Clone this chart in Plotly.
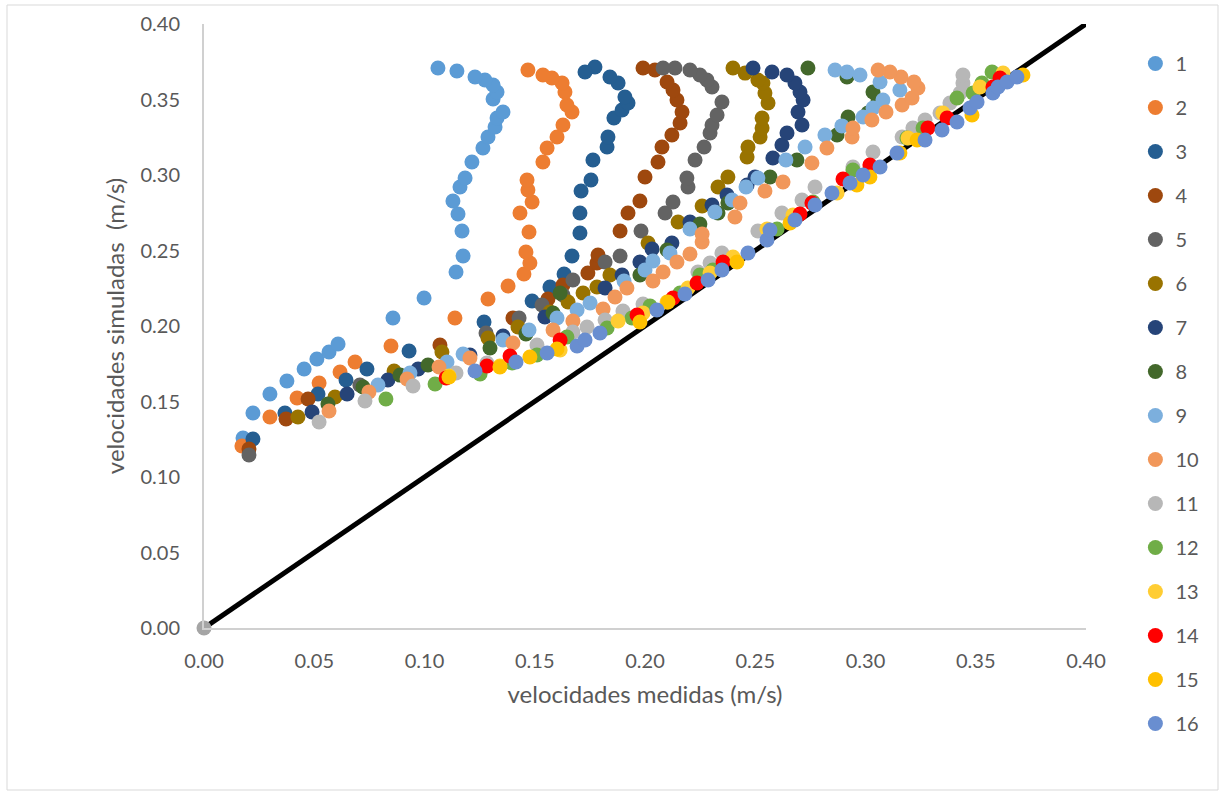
import plotly.graph_objects as go

# ---------------- data (measured x, simulated y) ----------------
meas_1 = [0.0177,0.0222,0.0299,0.0376,0.0454,0.0512,0.0567,0.0608,0.0857,0.0998,0.1143,0.1175,0.1170,0.1152,0.1129,0.1161,0.1184,0.1215,0.1265,0.1288,0.1320,0.1329,0.1356,0.1311,0.1329,0.1311,0.1274,0.1229,0.1147,0.1061]
sim_1 = [0.1258,0.1424,0.1550,0.1636,0.1715,0.1781,0.1828,0.1881,0.2053,0.2185,0.2358,0.2464,0.2629,0.2742,0.2828,0.2921,0.2980,0.3086,0.3179,0.3252,0.3318,0.3377,0.3417,0.3503,0.3550,0.3596,0.3629,0.3649,0.3689,0.3709]

meas_2 = [0.0172,0.0299,0.0422,0.0522,0.0617,0.0685,0.0848,0.1138,0.1288,0.1379,0.1451,0.1478,0.1460,0.1474,0.1433,0.1488,0.1469,0.1465,0.1537,0.1556,0.1601,0.1628,0.1669,0.1646,0.1637,0.1624,0.1578,0.1537,0.1469]
sim_2 = [0.1205,0.1397,0.1523,0.1623,0.1695,0.1762,0.1868,0.2053,0.2179,0.2265,0.2344,0.2417,0.2490,0.2623,0.2748,0.2821,0.2901,0.2967,0.3086,0.3179,0.3252,0.3331,0.3417,0.3464,0.3550,0.3609,0.3642,0.3662,0.3695]

meas_3 = [0.0222,0.0367,0.0517,0.0644,0.0739,0.0930,0.1270,0.1488,0.1569,0.1633,0.1669,0.1705,0.1705,0.1710,0.1755,0.1764,0.1828,0.1832,0.1859,0.1896,0.1923,0.1909,0.1878,0.1841,0.1773,0.1728]
sim_3 = [0.1252,0.1424,0.1550,0.1642,0.1715,0.1834,0.2026,0.2166,0.2258,0.2344,0.2464,0.2616,0.2748,0.2894,0.2967,0.3099,0.3185,0.3252,0.3377,0.3430,0.3477,0.3517,0.3609,0.3649,0.3715,0.3682]

meas_4 = [0.0204,0.0372,0.0472,0.1070,0.1401,0.1560,0.1628,0.1741,0.1782,0.1787,0.1887,0.1923,0.1977,0.2000,0.2059,0.2077,0.2122,0.2159,0.2168,0.2145,0.2127,0.2100,0.2045,0.1991]
sim_4 = [0.1185,0.1384,0.1517,0.1874,0.2053,0.2179,0.2272,0.2351,0.2417,0.2470,0.2629,0.2748,0.2828,0.2987,0.3086,0.3185,0.3265,0.3344,0.3417,0.3497,0.3563,0.3616,0.3695,0.3709]

meas_5 = [0.0204,0.0707,0.1279,0.1429,0.1533,0.1628,0.1673,0.1819,0.1887,0.1982,0.2091,0.2127,0.2195,0.2190,0.2227,0.2268,0.2295,0.2304,0.2327,0.2349,0.2304,0.2281,0.2249,0.2204,0.2136,0.2082]
sim_5 = [0.1146,0.1609,0.1954,0.2053,0.2139,0.2205,0.2305,0.2424,0.2464,0.2629,0.2748,0.2821,0.2921,0.2980,0.3099,0.3185,0.3278,0.3331,0.3397,0.3483,0.3583,0.3629,0.3662,0.3695,0.3709,0.3709]

meas_6 = [0.0426,0.0594,0.0862,0.1079,0.1288,0.1424,0.1569,0.1651,0.1719,0.1782,0.1841,0.2014,0.2150,0.2259,0.2331,0.2376,0.2463,0.2467,0.2522,0.2531,0.2531,0.2558,0.2544,0.2535,0.2512,0.2454,0.2399]
sim_6 = [0.1397,0.1530,0.1702,0.1828,0.1921,0.1993,0.2093,0.2159,0.2219,0.2258,0.2338,0.2550,0.2689,0.2795,0.2921,0.2987,0.3119,0.3185,0.3252,0.3311,0.3377,0.3477,0.3543,0.3609,0.3629,0.3675,0.3709]

meas_7 = [0.0490,0.0649,0.0834,0.0971,0.1206,0.1356,0.1546,0.1819,0.1896,0.1977,0.2032,0.2122,0.2204,0.2304,0.2372,0.2463,0.2499,0.2580,0.2621,0.2644,0.2712,0.2694,0.2717,0.2703,0.2680,0.2644,0.2576,0.2490]
sim_7 = [0.1430,0.1550,0.1642,0.1715,0.1808,0.1934,0.2060,0.2252,0.2338,0.2424,0.2510,0.2550,0.2689,0.2801,0.2868,0.2934,0.2987,0.3113,0.3199,0.3278,0.3331,0.3417,0.3497,0.3550,0.3609,0.3662,0.3682,0.3709]

meas_8 = [0.0562,0.0721,0.0889,0.1016,0.1297,0.1460,0.1583,0.1615,0.1977,0.2100,0.2249,0.2331,0.2376,0.2567,0.2689,0.2871,0.2921,0.3011,0.3057,0.3034,0.2916,0.2739]
sim_8 = [0.1483,0.1596,0.1675,0.1742,0.1854,0.1947,0.2086,0.2219,0.2338,0.2503,0.2675,0.2748,0.2815,0.2987,0.3099,0.3265,0.3384,0.3411,0.3497,0.3550,0.3649,0.3709]

meas_9 = [0.0789,0.0934,0.1102,0.1175,0.1356,0.1474,0.1601,0.1692,0.1751,0.1905,0.2000,0.2036,0.2113,0.2204,0.2317,0.2395,0.2458,0.2512,0.2639,0.2726,0.2816,0.2893,0.2989,0.3034,0.3079,0.3156,0.3066,0.2975,0.2916,0.2862]
sim_9 = [0.1609,0.1689,0.1762,0.1815,0.1907,0.1974,0.2053,0.2106,0.2152,0.2298,0.2371,0.2430,0.2483,0.2642,0.2755,0.2834,0.2921,0.2980,0.3099,0.3185,0.3265,0.3325,0.3384,0.3444,0.3497,0.3563,0.3616,0.3662,0.3682,0.3695]

meas_10 = [0.0567,0.0748,0.0921,0.1066,0.1206,0.1401,0.1583,0.1673,0.1810,0.1864,0.1918,0.2036,0.2082,0.2145,0.2204,0.2259,0.2259,0.2408,0.2431,0.2544,0.2626,0.2757,0.2825,0.2939,0.2943,0.3029,0.3093,0.3166,0.3211,0.3238,0.3220,0.3161,0.3111,0.3057]
sim_10 = [0.1437,0.1563,0.1649,0.1728,0.1788,0.1887,0.1974,0.2033,0.2113,0.2192,0.2252,0.2298,0.2358,0.2424,0.2477,0.2556,0.2609,0.2722,0.2815,0.2894,0.2954,0.3079,0.3179,0.3252,0.3311,0.3364,0.3417,0.3464,0.3510,0.3576,0.3616,0.3649,0.3682,0.3695]

meas_11 = [0.0522,0.0730,0.0948,0.1143,0.1283,0.1510,0.1673,0.1737,0.1819,0.1900,0.1991,0.2240,0.2295,0.2349,0.2512,0.2621,0.2712,0.2771,0.2943,0.3034,0.3166,0.3215,0.3270,0.3338,0.3383,0.3429,0.3442,0.3442]
sim_11 = [0.1364,0.1503,0.1603,0.1689,0.1755,0.1874,0.1960,0.1993,0.2040,0.2099,0.2146,0.2358,0.2417,0.2483,0.2629,0.2748,0.2834,0.2921,0.3053,0.3152,0.3252,0.3311,0.3364,0.3411,0.3477,0.3543,0.3609,0.3662]

meas_12 = [0.0825,0.1048,0.1252,0.1397,0.1510,0.1646,0.1828,0.1941,0.2023,0.2159,0.2249,0.2308,0.2599,0.2762,0.2943,0.3188,0.3261,0.3415,0.3488,0.3528,0.3574]
sim_12 = [0.1517,0.1616,0.1682,0.1755,0.1808,0.1927,0.1987,0.2053,0.2132,0.2219,0.2338,0.2371,0.2642,0.2821,0.3033,0.3245,0.3311,0.3510,0.3543,0.3609,0.3682]

meas_13 = [0.1111,0.1342,0.1615,0.1878,0.1991,0.2100,0.2195,0.2295,0.2399,0.2553,0.2671,0.2871,0.3020,0.3193,0.3351,0.3519,0.3624]
sim_13 = [0.1669,0.1735,0.1841,0.2033,0.2086,0.2159,0.2252,0.2351,0.2457,0.2642,0.2735,0.2881,0.3046,0.3245,0.3411,0.3583,0.3675]

meas_14 = [0.1098,0.1283,0.1388,0.1615,0.1964,0.2127,0.2236,0.2354,0.2703,0.2757,0.2898,0.3020,0.3283,0.3370,0.3578,0.3610]
sim_14 = [0.1656,0.1735,0.1801,0.1907,0.2073,0.2185,0.2285,0.2424,0.2742,0.2815,0.2974,0.3066,0.3311,0.3377,0.3583,0.3642]

meas_15 = [0.1111,0.1342,0.1478,0.1601,0.1977,0.2104,0.2417,0.2658,0.2961,0.3020,0.3156,0.3234,0.3483,0.3714]
sim_15 = [0.1662,0.1728,0.1795,0.1848,0.2026,0.2159,0.2424,0.2682,0.2934,0.2987,0.3146,0.3232,0.3397,0.3662]

meas_16 = [0.1229,0.1415,0.1556,0.1692,0.1728,0.1796,0.2054,0.2181,0.2286,0.2349,0.2467,0.2553,0.2567,0.2680,0.2771,0.2848,0.2930,0.2989,0.3066,0.3143,0.3270,0.3347,0.3415,0.3474,0.3506,0.3578,0.3601,0.3642,0.3687]
sim_16 = [0.1702,0.1762,0.1821,0.1868,0.1907,0.1954,0.2106,0.2212,0.2305,0.2371,0.2483,0.2570,0.2636,0.2702,0.2801,0.2881,0.2947,0.3000,0.3053,0.3146,0.3232,0.3298,0.3351,0.3444,0.3483,0.3543,0.3583,0.3616,0.3649]

line_x = [0.0, 0.4]
line_y = [0.0, 0.4]

series_names = [str(i) for i in range(1, 17)]
series_colors = ["#5B9BD5", "#ED7D31", "#255E91", "#9E480E", "#636363", "#997300",
                 "#264478", "#43682B", "#7CAFDD", "#F1975A", "#B7B7B7", "#70AD47",
                 "#FFCD33", "#FF0000", "#FFC000", "#698ED0"]
meas_all = [meas_1, meas_2, meas_3, meas_4, meas_5, meas_6, meas_7, meas_8,
            meas_9, meas_10, meas_11, meas_12, meas_13, meas_14, meas_15, meas_16]
sim_all = [sim_1, sim_2, sim_3, sim_4, sim_5, sim_6, sim_7, sim_8,
           sim_9, sim_10, sim_11, sim_12, sim_13, sim_14, sim_15, sim_16]

x_ticks = [0.0, 0.05, 0.10, 0.15, 0.20, 0.25, 0.30, 0.35, 0.40]
y_ticks = [0.0, 0.05, 0.10, 0.15, 0.20, 0.25, 0.30, 0.35, 0.40]

FONT = "Lato"
TXT = "#595959"

fig = go.Figure()

# 1:1 line
fig.add_trace(go.Scatter(x=line_x, y=line_y, mode="lines",
                         line=dict(color="black", width=5),
                         showlegend=False, hoverinfo="skip"))
fig.add_trace(go.Scatter(x=line_x[:1], y=line_y[:1], mode="markers",
                         marker=dict(color="#A5A5A5", size=15),
                         showlegend=False, cliponaxis=False, hoverinfo="skip"))

for name, col, xs, ys in zip(series_names, series_colors, meas_all, sim_all):
    fig.add_trace(go.Scatter(x=xs, y=ys, mode="markers", name=name,
                             legendgroup=name,
                             marker=dict(color=col, size=15, line=dict(width=0))))

fig.update_xaxes(range=[0, 0.4], tickvals=x_ticks, tickformat=".2f",
                 showgrid=False, zeroline=False, showline=True,
                 linecolor="#D0D0D0", linewidth=2, ticks="",
                 ticklabelstandoff=14,
                 tickfont=dict(family=FONT, size=20, color=TXT),
                 title=dict(text="velocidades medidas (m/s)", standoff=15,
                            font=dict(family=FONT, size=24, color=TXT)))
fig.update_yaxes(range=[0, 0.4], tickvals=y_ticks, tickformat=".2f",
                 showgrid=False, zeroline=False, showline=True,
                 linecolor="#D0D0D0", linewidth=2, ticks="",
                 ticklabelstandoff=18,
                 tickfont=dict(family=FONT, size=20, color=TXT),
                 title=dict(text="velocidades simuladas\u00a0 (m/s)", standoff=9,
                            font=dict(family=FONT, size=24, color=TXT)))

pw, ph = 882.0, 604.0
fig.add_shape(type="rect", xref="paper", yref="paper",
              x0=(7 - 204) / pw, x1=(1218 - 204) / pw,
              y0=(628 - 790) / ph, y1=(628 - 5) / ph,
              line=dict(color="#D9D9D9", width=1), layer="below")

fig.update_layout(
    width=1219, height=792,
    margin=dict(l=204, r=133, t=24, b=164, autoexpand=False),
    plot_bgcolor="white", paper_bgcolor="white",
    font=dict(family=FONT, size=20, color=TXT),
    legend=dict(x=1.056, y=0.967, xanchor="left", yanchor="top",
                traceorder="grouped", tracegroupgap=15, itemwidth=30,
                maxheight=780,
                font=dict(family=FONT, size=20, color=TXT),
                bgcolor="rgba(0,0,0,0)"),
)

fig.write_html("out.html")
